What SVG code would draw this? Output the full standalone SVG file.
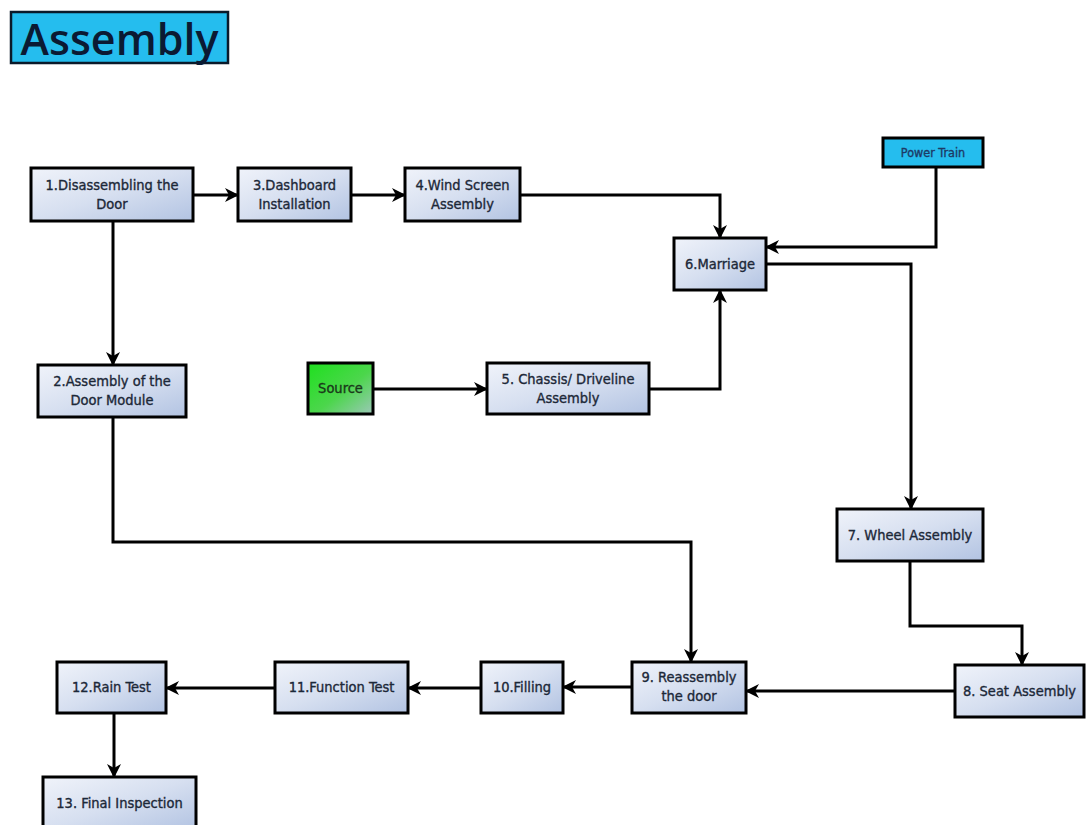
<svg xmlns="http://www.w3.org/2000/svg" width="1086" height="825" viewBox="0 0 1086 825">
<defs>
<linearGradient id="gBox" x1="0" y1="0" x2="1" y2="1">
<stop offset="0" stop-color="#f0f3fa"/>
<stop offset="0.5" stop-color="#d6dff0"/>
<stop offset="1" stop-color="#b2c3e2"/>
</linearGradient>
<linearGradient id="gSrc" x1="0" y1="0" x2="1" y2="1">
<stop offset="0" stop-color="#1ee01e"/>
<stop offset="0.55" stop-color="#4cd64c"/>
<stop offset="1" stop-color="#9cc8b8"/>
</linearGradient>
<marker id="arr" markerUnits="userSpaceOnUse" markerWidth="16" markerHeight="16" viewBox="0 0 16 16" refX="14" refY="8" orient="auto">
<path d="M1,1 L15,8 L1,15 L5,8 z" fill="#000"/>
</marker>
<style>
.box{fill:url(#gBox);stroke:#000;stroke-width:3}
.lbl{font-family:"DejaVu Sans Condensed","Liberation Sans",sans-serif;font-size:14.5px;fill:#1c2838;stroke:#1c2838;stroke-width:0.35;text-anchor:middle}
.con{fill:none;stroke:#000;stroke-width:3;marker-end:url(#arr)}
</style>
</defs>
<rect width="1086" height="825" fill="#fff"/>
<g id="title">
<rect x="11" y="12" width="217" height="51" fill="#25bdee" stroke="#0a1a2a" stroke-width="2.5"/>
<text x="119.5" y="55" font-family="'Open Sans','Noto Sans',sans-serif" font-size="43" font-weight="600" fill="#0b1a33" text-anchor="middle">Assembly</text>
</g>
<g id="connectors">
<path class="con" d="M193,195 H238"/>
<path class="con" d="M351,195 H405"/>
<path class="con" d="M520,195 H720 V238"/>
<path class="con" d="M936,167 V247 H766"/>
<path class="con" d="M766,264 H911 V509"/>
<path class="con" d="M113,221 V365"/>
<path class="con" d="M373,389 H487"/>
<path class="con" d="M649,389 H720 V290"/>
<path class="con" d="M113,417 V542 H691 V662"/>
<path class="con" d="M910,561 V626 H1022 V665"/>
<path class="con" d="M955,691 H746"/>
<path class="con" d="M632,687 H563"/>
<path class="con" d="M481,688 H408"/>
<path class="con" d="M275,688 H166"/>
<path class="con" d="M114,713 V777"/>
</g>
<g id="n1"><rect class="box" x="31" y="168" width="162" height="53"/><text class="lbl" x="112" y="190">1.Disassembling the</text><text class="lbl" x="112" y="209">Door</text></g>
<g id="n3"><rect class="box" x="238" y="168" width="113" height="53"/><text class="lbl" x="294.5" y="190">3.Dashboard</text><text class="lbl" x="294.5" y="209">Installation</text></g>
<g id="n4"><rect class="box" x="405" y="168" width="115" height="53"/><text class="lbl" x="462.5" y="190">4.Wind Screen</text><text class="lbl" x="462.5" y="209">Assembly</text></g>
<g id="n6"><rect class="box" x="674" y="238" width="92" height="52"/><text class="lbl" x="720" y="269">6.Marriage</text></g>
<g id="power"><rect x="883" y="138" width="100" height="29" fill="#25bdee" stroke="#000" stroke-width="3"/><text class="lbl" x="933" y="157" style="fill:#1d3a66;stroke:#1d3a66;font-size:12.5px">Power Train</text></g>
<g id="n2"><rect class="box" x="38" y="365" width="148" height="52"/><text class="lbl" x="112" y="386">2.Assembly of the</text><text class="lbl" x="112" y="405">Door Module</text></g>
<g id="source"><rect x="308" y="363" width="65" height="51" fill="url(#gSrc)" stroke="#000" stroke-width="3"/><text class="lbl" x="340.5" y="393" style="fill:#1a3a1a;stroke:#1a3a1a">Source</text></g>
<g id="n5"><rect class="box" x="487" y="363" width="162" height="51"/><text class="lbl" x="568" y="384">5. Chassis/ Driveline</text><text class="lbl" x="568" y="403">Assembly</text></g>
<g id="n7"><rect class="box" x="837" y="509" width="146" height="52"/><text class="lbl" x="910" y="540">7. Wheel Assembly</text></g>
<g id="n8"><rect class="box" x="955" y="665" width="129" height="52"/><text class="lbl" x="1019.5" y="696">8. Seat Assembly</text></g>
<g id="n9"><rect class="box" x="632" y="662" width="114" height="51"/><text class="lbl" x="689" y="682">9. Reassembly</text><text class="lbl" x="689" y="701">the door</text></g>
<g id="n10"><rect class="box" x="481" y="662" width="82" height="51"/><text class="lbl" x="522" y="692">10.Filling</text></g>
<g id="n11"><rect class="box" x="275" y="662" width="133" height="51"/><text class="lbl" x="341.5" y="692">11.Function Test</text></g>
<g id="n12"><rect class="box" x="57" y="662" width="109" height="51"/><text class="lbl" x="111.5" y="692">12.Rain Test</text></g>
<g id="n13"><rect class="box" x="43" y="777" width="153" height="54"/><text class="lbl" x="119.5" y="808">13. Final Inspection</text></g>
</svg>
